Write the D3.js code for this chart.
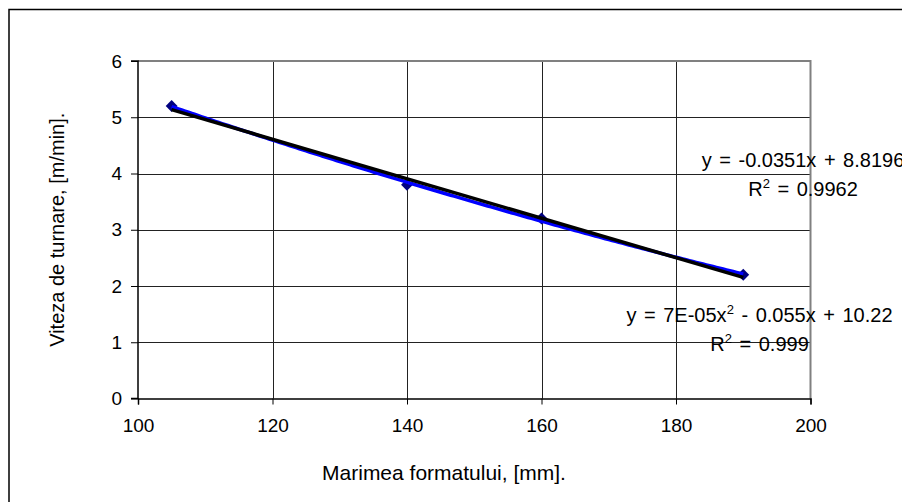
<!DOCTYPE html>
<html>
<head>
<meta charset="utf-8">
<script src="https://cdn.jsdelivr.net/npm/d3@7"></script>
<style>
  html, body { margin: 0; padding: 0; background: #fff; }
  svg { display: block; font-family: "Liberation Sans", Arial, sans-serif; }
</style>
</head>
<body>
<svg id="chart" width="902" height="502"></svg>
<script>
// Measured points: format size [mm] vs. pouring speed [m/min]
const formatSize = [105, 140, 160, 190];
const pouringSpeed = [5.2, 3.8, 3.2, 2.2];

const xTickValues = [100, 120, 140, 160, 180, 200];
const yTickValues = [0, 1, 2, 3, 4, 5, 6];

const xTitle = "Marimea formatului, [mm].";
const yTitle = "Viteza de turnare, [m/min].";

// Trendline equation labels ("^2" marks a superscript 2)
const linearLabel = ["y = -0.0351x + 8.8196", "R^2 = 0.9962"];
const polyLabel = ["y = 7E-05x^2 - 0.055x + 10.22", "R^2 = 0.999"];

const plot = { left: 138, right: 810.5, top: 61, bottom: 398.5 };
const tickFont = 19;
const textFont = 20;

const svg = d3.select("#chart");

// Chart area frame
svg.append("rect")
  .attr("x", 9).attr("y", 9.5)
  .attr("width", 1000).attr("height", 1000)
  .attr("fill", "#fff")
  .attr("stroke", "#000").attr("stroke-width", 1.5);

const x = d3.scaleLinear().domain([100, 200]).range([plot.left, plot.right]);
const y = d3.scaleLinear().domain([0, 6]).range([plot.bottom, plot.top]);

// Grid
const grid = svg.append("g");
grid.selectAll("line.h")
  .data(yTickValues.filter(v => v > 0 && v < 6))
  .join("line")
  .attr("x1", plot.left).attr("x2", plot.right)
  .attr("y1", d => Math.round(y(d)) + 0.5).attr("y2", d => Math.round(y(d)) + 0.5)
  .attr("stroke", "#222").attr("stroke-width", 1);
grid.selectAll("line.v")
  .data(xTickValues.filter(v => v > 100 && v < 200))
  .join("line")
  .attr("y1", plot.top).attr("y2", plot.bottom)
  .attr("x1", d => Math.round(x(d)) + 0.5).attr("x2", d => Math.round(x(d)) + 0.5)
  .attr("stroke", "#222").attr("stroke-width", 1);

// Plot area border (top / right in gray)
svg.append("path")
  .attr("d", `M${plot.left},${plot.top}H${plot.right}V${plot.bottom}`)
  .attr("fill", "none").attr("stroke", "#808080").attr("stroke-width", 2);

// Axes
const yAxis = d3.axisLeft(y).tickValues(yTickValues).tickSize(7).tickPadding(9)
  .tickFormat(d3.format("d"));
const xAxis = d3.axisBottom(x).tickValues(xTickValues).tickSize(6).tickPadding(14)
  .tickFormat(d3.format("d"));

const gy = svg.append("g").attr("transform", `translate(${plot.left},0)`).call(yAxis);
const gx = svg.append("g").attr("transform", `translate(0,${plot.bottom})`).call(xAxis);
[gx, gy].forEach(g => {
  g.select(".domain").attr("stroke", "#000").attr("stroke-width", 1.5);
  g.selectAll(".tick line").attr("stroke", "#000").attr("stroke-width", 1);
  g.selectAll(".tick text")
    .attr("fill", "#000")
    .style("font-family", "'Liberation Sans', Arial, sans-serif")
    .style("font-size", tickFont + "px");
});
gy.select(".domain").attr("d", `M-7,${plot.top}H0V${plot.bottom}H-7`);

// Least-squares fits
function linearFit(xs, ys) {
  const n = xs.length;
  const mx = d3.mean(xs), my = d3.mean(ys);
  let sxy = 0, sxx = 0;
  for (let i = 0; i < n; i++) { sxy += (xs[i] - mx) * (ys[i] - my); sxx += (xs[i] - mx) ** 2; }
  const b = sxy / sxx;
  return v => my + b * (v - mx);
}
function quadFit(xs, ys) {
  // normal equations for a + b x + c x^2
  const s = k => d3.sum(xs, v => v ** k);
  const t = k => d3.sum(xs, (v, i) => ys[i] * v ** k);
  const A = [[s(0), s(1), s(2)], [s(1), s(2), s(3)], [s(2), s(3), s(4)]];
  const B = [t(0), t(1), t(2)];
  for (let i = 0; i < 3; i++) {
    for (let j = i + 1; j < 3; j++) {
      const f = A[j][i] / A[i][i];
      for (let k = i; k < 3; k++) A[j][k] -= f * A[i][k];
      B[j] -= f * B[i];
    }
  }
  const c = [0, 0, 0];
  for (let i = 2; i >= 0; i--) {
    let sum = B[i];
    for (let k = i + 1; k < 3; k++) sum -= A[i][k] * c[k];
    c[i] = sum / A[i][i];
  }
  return v => c[0] + c[1] * v + c[2] * v * v;
}

const lin = linearFit(formatSize, pouringSpeed);
const quad = quadFit(formatSize, pouringSpeed);
const xs = d3.range(d3.min(formatSize), d3.max(formatSize) + 0.001, 0.5);
const line = d3.line().x(d => x(d[0])).y(d => y(d[1]));

// Markers
svg.append("g").selectAll("path")
  .data(formatSize.map((v, i) => [v, pouringSpeed[i]]))
  .join("path")
  .attr("d", d3.symbol(d3.symbolDiamond2, 90))
  .attr("transform", d => `translate(${x(d[0])},${y(d[1])})`)
  .attr("fill", "#000080");

// Polynomial trendline
svg.append("path")
  .attr("d", line(xs.map(v => [v, quad(v)])))
  .attr("fill", "none").attr("stroke", "#0000ff").attr("stroke-width", 3.5);

// Linear trendline
svg.append("path")
  .attr("d", line([d3.min(formatSize), d3.max(formatSize)].map(v => [v, lin(v)])))
  .attr("fill", "none").attr("stroke", "#000").attr("stroke-width", 3.5);

// Equation labels
function drawLabel(lines, cx, baseline, gap) {
  lines.forEach((str, i) => {
    const t = svg.append("text")
      .attr("x", cx).attr("y", baseline + i * gap)
      .attr("text-anchor", "middle")
      .attr("font-size", textFont)
      .attr("fill", "#000")
      .attr("word-spacing", 2);
    const parts = str.split("^2");
    parts.forEach((p, k) => {
      const span = t.append("tspan").text(p);
      if (k > 0) span.attr("dy", 8);
      if (k < parts.length - 1) {
        t.append("tspan").attr("font-size", 13).attr("dy", -8).text("2");
      }
    });
  });
}
drawLabel(linearLabel, 803, 167, 29);
drawLabel(polyLabel, 759.5, 322, 28.5);

// Axis titles
svg.append("text")
  .attr("x", 444).attr("y", 480)
  .attr("text-anchor", "middle").attr("font-size", 21).attr("fill", "#000")
  .text(xTitle);
svg.append("text")
  .attr("transform", `translate(64,${(plot.top + plot.bottom) / 2}) rotate(-90)`)
  .attr("text-anchor", "middle").attr("font-size", textFont).attr("fill", "#000")
  .text(yTitle);
</script>
</body>
</html>
